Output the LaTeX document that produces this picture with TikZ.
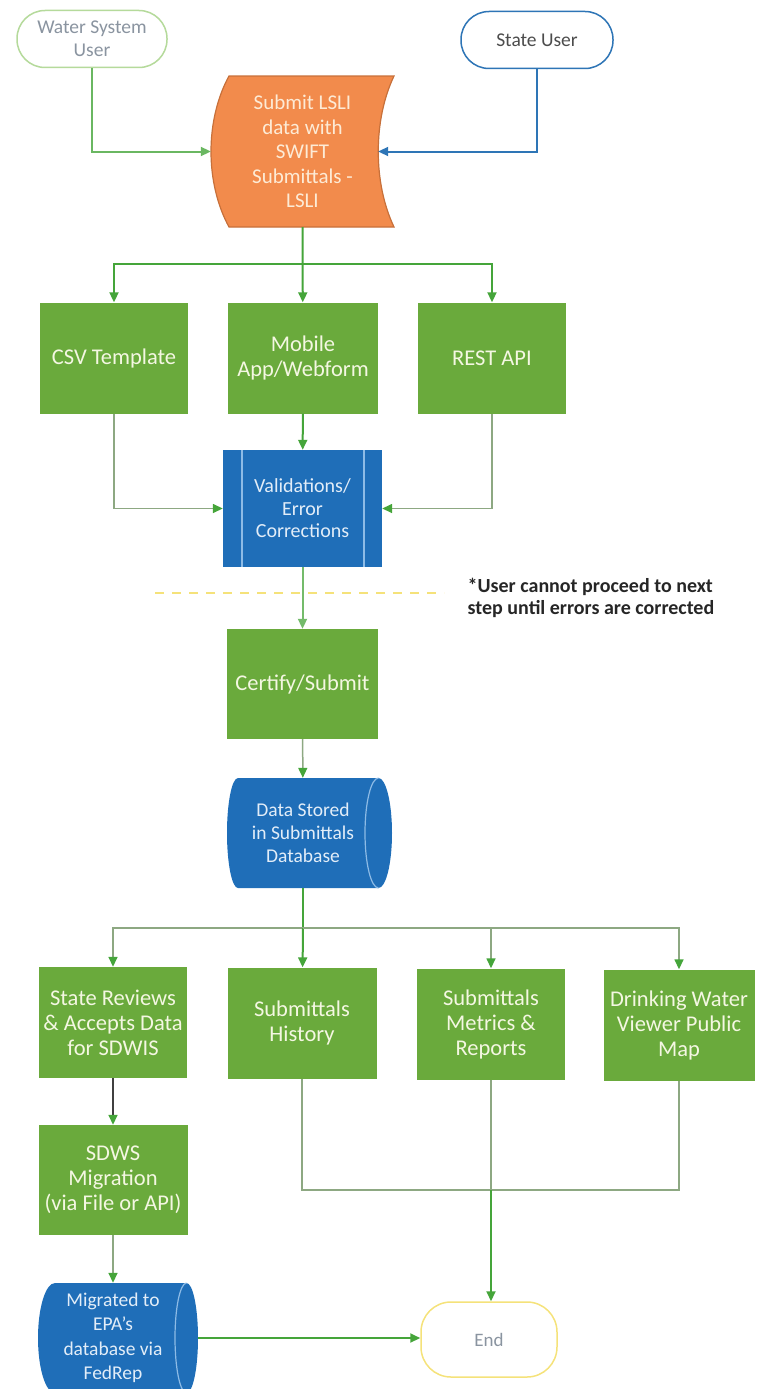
\documentclass[tikz,border=0pt]{standalone}
\usepackage{fontspec}
\setmainfont{Carlito}
\usepackage{tikz}
\usetikzlibrary{arrows.meta,backgrounds}

\definecolor{boxgreen}{HTML}{6AAA3C}
\definecolor{boxblue}{HTML}{1F6EB8}
\definecolor{boxorange}{HTML}{F28B4C}
\definecolor{orangeedge}{HTML}{C7703A}
\definecolor{linegreen}{HTML}{45A53A}
\definecolor{linegrey}{HTML}{8DA882}
\definecolor{lineblue}{HTML}{2E75B6}
\definecolor{softgreen}{HTML}{B5DA9B}
\definecolor{softyellow}{HTML}{F5E27A}
\definecolor{textgrey}{HTML}{8A94A0}
\definecolor{greentext}{HTML}{F4F7E2}
\definecolor{bluetext}{HTML}{E2EDF8}
\definecolor{orangetext}{HTML}{FDEBD6}
\definecolor{innerblue}{HTML}{8DBBE6}

\begin{document}
\begin{tikzpicture}[x=1pt, y=-1pt,
		user_box/.style={rectangle,rounded corners=28pt,line width=1.5pt,fill=white,minimum width=150pt,minimum height=57pt,align=center,font=\fontsize{19.5}{23}\selectfont},
		green_box/.style={rectangle,fill=boxgreen,text=greentext,minimum width=148pt,minimum height=111pt,align=center,font=\fontsize{22.5}{25}\selectfont},
		proc_box/.style={rectangle,fill=boxblue,text=bluetext,minimum width=159pt,minimum height=117pt,align=center,font=\fontsize{20}{22.5}\selectfont,
			path picture={\draw[innerblue,line width=1.2pt]
				([xshift=19pt]path picture bounding box.north west) -- ([xshift=19pt]path picture bounding box.south west)
				([xshift=-18pt]path picture bounding box.north east) -- ([xshift=-18pt]path picture bounding box.south east);}},
		text_box/.style={rectangle,align=center,minimum height=110pt},
		edge_green/.style={draw=linegreen,line width=2pt,-{Triangle[length=10pt,width=9pt]}},
		edge_grey/.style={draw=linegrey,line width=1.5pt,-{Triangle[length=10pt,width=9pt,color=linegreen]}},
		line_grey/.style={draw=linegrey,line width=1.5pt}]

	\useasboundingbox (0,0) rectangle (760,1389);

	% top row
	\node[user_box,draw=softgreen,text=textgrey] (wsuser) at (92,39) {Water System\\User};
	\node[user_box,draw=lineblue,text=black!70,minimum width=152pt] (stuser) at (537,40) {State User};
	\node[text_box,minimum width=183pt,minimum height=151pt,text=orangetext,font=\fontsize{21}{24.5}\selectfont] (submit) at (302.5,151.5) {Submit LSLI\\data with\\SWIFT\\Submittals -\\LSLI};

	% submission methods
	\node[green_box] (csv) at (114,358) {CSV Template};
	\node[green_box,minimum width=150pt] (mobile) at (303,358) {Mobile\\App/Webform};
	\node[green_box] (rest) at (492,358) {REST API};
	\node[proc_box] (val) at (302.5,508.5) {Validations/\\Error\\Corrections};

	\node[align=left,font=\fontsize{20}{21.5}\selectfont\bfseries,text=black!85] (note) at (591,598) {*User cannot proceed to next\\step until errors are corrected};

	\node[green_box,minimum width=151pt,minimum height=110pt] (cert) at (302.5,684) {Certify/Submit};
	\node[text_box,minimum width=150pt,text=bluetext,font=\fontsize{19.5}{23}\selectfont] (db) at (303,833) {Data Stored\\in Submittals\\Database};

	% outputs
	\node[green_box] (srev) at (113,1022.5) {State Reviews\\\& Accepts Data\\for SDWIS};
	\node[green_box,minimum width=149pt] (hist) at (302,1023) {Submittals\\History};
	\node[green_box] (metr) at (491,1024) {Submittals\\Metrics \&\\Reports};
	\node[green_box,minimum width=151pt] (dwv) at (679,1025) {Drinking Water\\Viewer Public\\Map};
	\node[green_box,minimum width=149pt,minimum height=110pt] (sdwis) at (113,1180) {SDWS\\Migration\\(via File or API)};
	\node[text_box,minimum width=170pt,text=bluetext,font=\fontsize{19.5}{24.5}\selectfont] (mig) at (113,1338) {Migrated to\\EPA's\\database via\\FedRep};
	\node[rectangle,rounded corners=30pt,draw=softyellow,line width=1.5pt,minimum width=136pt,minimum height=75pt,text=textgrey,font=\fontsize{19}{22}\selectfont] (endn) at (489,1339.5) {End};

	% shapes behind the text
	\begin{scope}[on background layer]
		\filldraw[fill=boxorange,draw=orangeedge,line width=1.2pt] (229,76) -- (394,76) .. controls (373,120) and (373,183) .. (394,227) -- (229,227) .. controls (205,183) and (205,120) .. (229,76) -- cycle;
		\fill[boxblue] (238,778) -- (378.5,778) arc[start angle=90,end angle=-90,x radius=13.5pt,y radius=55pt] -- (238,888) arc[start angle=270,end angle=90,x radius=11pt,y radius=55pt] -- cycle;
		\draw[innerblue,line width=1.2pt] (378.5,778) arc[start angle=90,end angle=270,x radius=13.5pt,y radius=55pt];
		\fill[boxblue] (55,1283) -- (186.5,1283) arc[start angle=90,end angle=-90,x radius=11.5pt,y radius=55pt] -- (55,1393) arc[start angle=270,end angle=90,x radius=17pt,y radius=55pt] -- cycle;
		\draw[innerblue,line width=1.2pt] (186.5,1283) arc[start angle=90,end angle=270,x radius=11.5pt,y radius=55pt];
	\end{scope}

	\coordinate (split1) at (303,264);
	\coordinate (split2) at (303,928);
	\coordinate (join) at (491,1190);
	\coordinate (dashL) at (155,593);
	\coordinate (dashR) at (444,593);

	\draw[softyellow,line width=2pt,dash pattern=on 9pt off 8pt] (dashL) -- (dashR);

	\draw[edge_green,draw=linegreen!80!white] (wsuser) |- (submit.west);
	\draw[edge_green,draw=lineblue,-{Triangle[length=10pt,width=9pt]}] (stuser) |- ([xshift=-16pt]submit.east);
	\draw[edge_green] (submit.south) -- (mobile);
	\draw[edge_green] (split1) -| (csv);
	\draw[edge_green] (split1) -| (rest);
	\draw[edge_grey] (csv) |- (val);
	\draw[edge_grey] (rest) |- (val);
	\draw[edge_green] (mobile) -- (val);
	\draw[edge_green,draw=linegreen!75!white] (val) -- (cert);
	\draw[edge_grey] (cert) -- (db);
	\draw[line_grey,draw=linegreen,line width=2pt] (db) -- (split2);
	\draw[edge_grey] (split2) -| (srev);
	\draw[edge_green] (split2) -- (hist);
	\draw[edge_grey] (split2) -| (metr);
	\draw[edge_grey] (split2) -| (dwv);
	\draw[edge_grey,draw=black!75] (srev) -- (sdwis);
	\draw[edge_grey] (sdwis) -- (mig);
	\draw[line_grey] (hist) |- (join);
	\draw[line_grey] (dwv) |- (join);
	\draw[line_grey] (metr) -- (join);
	\draw[edge_green] (join) -- (join |- endn.north);
	\draw[edge_green] (mig.east) -- (mig.east -| endn.west);
\end{tikzpicture}
\end{document}
